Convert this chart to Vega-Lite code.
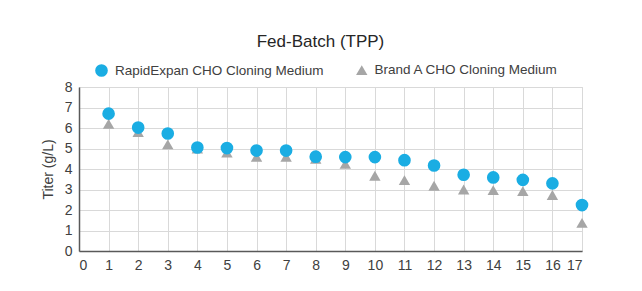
{
  "$schema": "https://vega.github.io/schema/vega-lite/v6.json",
  "autosize": "none",
  "width": 503,
  "height": 164,
  "padding": {"left": 79, "top": 87, "right": 60, "bottom": 40},
  "background": "white",
  "title": {"text": "Fed-Batch (TPP)", "fontSize": 17, "font": "Liberation Sans", "fontWeight": "normal", "color": "#262626", "offset": 12, "dx": -10},
  "data": {"values": [
    {"day": 1, "medium": "Brand A CHO Cloning Medium", "titer": 6.2},
    {"day": 2, "medium": "Brand A CHO Cloning Medium", "titer": 5.8},
    {"day": 3, "medium": "Brand A CHO Cloning Medium", "titer": 5.2},
    {"day": 4, "medium": "Brand A CHO Cloning Medium", "titer": 5.0},
    {"day": 5, "medium": "Brand A CHO Cloning Medium", "titer": 4.8},
    {"day": 6, "medium": "Brand A CHO Cloning Medium", "titer": 4.6},
    {"day": 7, "medium": "Brand A CHO Cloning Medium", "titer": 4.6},
    {"day": 8, "medium": "Brand A CHO Cloning Medium", "titer": 4.5},
    {"day": 9, "medium": "Brand A CHO Cloning Medium", "titer": 4.25},
    {"day": 10, "medium": "Brand A CHO Cloning Medium", "titer": 3.67},
    {"day": 11, "medium": "Brand A CHO Cloning Medium", "titer": 3.46},
    {"day": 12, "medium": "Brand A CHO Cloning Medium", "titer": 3.18},
    {"day": 13, "medium": "Brand A CHO Cloning Medium", "titer": 3.0},
    {"day": 14, "medium": "Brand A CHO Cloning Medium", "titer": 2.97},
    {"day": 15, "medium": "Brand A CHO Cloning Medium", "titer": 2.92},
    {"day": 16, "medium": "Brand A CHO Cloning Medium", "titer": 2.73},
    {"day": 17, "medium": "Brand A CHO Cloning Medium", "titer": 1.37},
    {"day": 1, "medium": "RapidExpan CHO Cloning Medium", "titer": 6.7},
    {"day": 2, "medium": "RapidExpan CHO Cloning Medium", "titer": 6.02},
    {"day": 3, "medium": "RapidExpan CHO Cloning Medium", "titer": 5.73},
    {"day": 4, "medium": "RapidExpan CHO Cloning Medium", "titer": 5.05},
    {"day": 5, "medium": "RapidExpan CHO Cloning Medium", "titer": 5.02},
    {"day": 6, "medium": "RapidExpan CHO Cloning Medium", "titer": 4.9},
    {"day": 7, "medium": "RapidExpan CHO Cloning Medium", "titer": 4.9},
    {"day": 8, "medium": "RapidExpan CHO Cloning Medium", "titer": 4.6},
    {"day": 9, "medium": "RapidExpan CHO Cloning Medium", "titer": 4.58},
    {"day": 10, "medium": "RapidExpan CHO Cloning Medium", "titer": 4.58},
    {"day": 11, "medium": "RapidExpan CHO Cloning Medium", "titer": 4.43},
    {"day": 12, "medium": "RapidExpan CHO Cloning Medium", "titer": 4.17},
    {"day": 13, "medium": "RapidExpan CHO Cloning Medium", "titer": 3.72},
    {"day": 14, "medium": "RapidExpan CHO Cloning Medium", "titer": 3.59},
    {"day": 15, "medium": "RapidExpan CHO Cloning Medium", "titer": 3.47},
    {"day": 16, "medium": "RapidExpan CHO Cloning Medium", "titer": 3.3},
    {"day": 17, "medium": "RapidExpan CHO Cloning Medium", "titer": 2.24}
  ]},
  "mark": {"type": "point", "filled": true, "opacity": 1},
  "encoding": {
    "x": {"field": "day", "type": "quantitative", "scale": {"domain": [0, 17], "nice": false},
      "axis": {"title": null, "values": [0,1,2,3,4,5,6,7,8,9,10,11,12,13,14,15,16,17], "format": "d", "labelFontSize": 14, "labelPadding": 7, "ticks": false, "domainColor": "#595959", "domainWidth": 1.5}},
    "y": {"field": "titer", "type": "quantitative", "scale": {"domain": [0, 8], "nice": false},
      "axis": {"title": "Titer (g/L)", "values": [0,1,2,3,4,5,6,7,8], "labelFontSize": 14, "labelPadding": 7, "ticks": false, "titleFontSize": 14, "titleFontWeight": "normal", "titlePadding": 9, "domainColor": "#595959", "domainWidth": 1.5}},
    "color": {"field": "medium", "type": "nominal",
      "scale": {"domain": ["RapidExpan CHO Cloning Medium", "Brand A CHO Cloning Medium"], "range": ["#1AADE3", "#A6A6A6"]},
      "legend": {"title": null, "orient": "none", "direction": "horizontal", "legendX": 15, "legendY": -24, "labelFontSize": 13.5, "labelLimit": 0, "columnPadding": 31, "symbolSize": 60, "labelOffset": 6}},
    "shape": {"field": "medium", "type": "nominal",
      "scale": {"domain": ["RapidExpan CHO Cloning Medium", "Brand A CHO Cloning Medium"], "range": ["circle", "triangle-up"]}},
    "size": {"field": "medium", "type": "nominal",
      "scale": {"domain": ["RapidExpan CHO Cloning Medium", "Brand A CHO Cloning Medium"], "range": [160, 130]}, "legend": null}
  },
  "config": {
    "font": "Liberation Sans",
    "view": {"stroke": "#D9D9D9"},
    "axis": {"gridColor": "#D9D9D9", "gridWidth": 1, "labelColor": "#404040", "titleColor": "#404040", "labelFont": "Liberation Sans", "titleFont": "Liberation Sans"},
    "legend": {"labelColor": "#404040", "labelFont": "Liberation Sans"}
  }
}
